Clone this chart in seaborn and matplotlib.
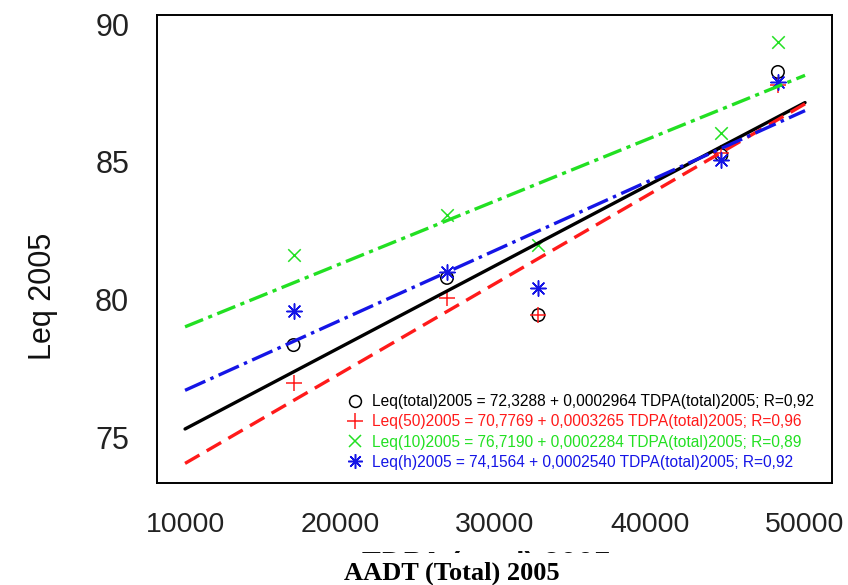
import numpy as np
import pandas as pd
import seaborn as sns
import matplotlib.pyplot as plt
from matplotlib.patches import Rectangle

# Measured sites: total daily traffic and equivalent noise levels (dB)
tdpa = [17000, 26900, 32800, 44600, 48250]
leq_total = [78.34, 80.78, 79.43, 85.24, 88.26]
leq_50 = [76.96, 80.05, 79.43, 85.32, 87.80]
leq_10 = [81.61, 83.06, 81.98, 86.04, 89.35]
leq_h = [79.58, 81.00, 80.41, 85.06, 87.90]

# Linear fits Leq = a + b * TDPA
series_names = ["Leq(total)2005", "Leq(50)2005", "Leq(10)2005", "Leq(h)2005"]
intercepts = [72.3288, 70.7769, 76.7190, 74.1564]
slopes = [0.0002964, 0.0003265, 0.0002284, 0.0002540]
r_values = ["0,92", "0,96", "0,89", "0,92"]
fit_range = [10000, 50000]

x_ticks = [10000, 20000, 30000, 40000, 50000]
y_ticks = [75, 80, 85, 90]

colors = ["black", "#ff1a1a", "#22e022", "#1515e6"]
markers = ["o", "+", "x", (8, 2, 0)]
marker_sizes = [9, 12, 9, 11]
line_styles = ["-", (0, (12, 6)), (0, (14, 4, 3, 4)), (0, (16, 4, 2.5, 4))]

sns.set_theme(style="white")
plt.rcParams["font.family"] = ["Liberation Sans", "DejaVu Sans"]
plt.rcParams["lines.scale_dashes"] = False

fig = plt.figure(figsize=(8.48, 5.85), dpi=100)
W, H = 848, 585
ax = fig.add_axes([157 / W, 1 - 483 / H, (832 - 157) / W, (483 - 15) / H])

values = [leq_total, leq_50, leq_10, leq_h]
handles = []
for name, ys, c, m, ms in zip(series_names, values, colors, markers, marker_sizes):
    df = pd.DataFrame({"tdpa": tdpa, "leq": ys})
    hollow = m == "o"
    sns.scatterplot(data=df, x="tdpa", y="leq", ax=ax, marker=m, s=ms ** 2,
                    facecolor="none" if hollow else c, edgecolor=c,
                    linewidth=1.1, zorder=2, legend=False)
    handles.append(plt.Line2D([], [], linestyle="none", marker=m, markersize=ms * 0.95,
                              markerfacecolor="none", markeredgecolor=c,
                              markeredgewidth=1.1))

for a, b, c, ls in zip(intercepts, slopes, colors, line_styles):
    fit = pd.DataFrame({"tdpa": fit_range,
                        "leq": [a + b * v for v in fit_range]})
    sns.lineplot(data=fit, x="tdpa", y="leq", ax=ax, color=c, linewidth=2.4,
                 linestyle=ls, zorder=3, estimator=None, legend=False)

ax.set_xlim(8190, 51740)
ax.set_ylim(73.33, 90.33)
ax.set_xticks(x_ticks)
ax.set_yticks(y_ticks)
ax.set_xlabel("")
ax.set_ylabel("")
ax.tick_params(axis="x", direction="out", length=15, width=1.2, colors="black",
               labelsize=20.5, pad=6, labelcolor="#222222")
ax.tick_params(axis="y", direction="out", length=18, width=1.2, colors="black",
               labelsize=22, pad=2, labelcolor="#222222")
for s in ax.spines.values():
    s.set_color("black")
    s.set_linewidth(1.4)

labels = [f"{n} = {a:.4f} + {b:.7f} TDPA(total)2005; R={r}".replace(".", ",")
          for n, a, b, r in zip(series_names, intercepts, slopes, r_values)]
leg = ax.legend(handles, labels, loc="upper left",
                bbox_to_anchor=((349 - 157) / (832 - 157), 1 - (394 - 15) / (483 - 15)),
                frameon=False, fontsize=11.2, handlelength=0.8, handletextpad=0.65,
                labelspacing=0.34, borderpad=0, borderaxespad=0,
                labelcolor=colors)

fig.text(43 / W, 1 - 296 / H, "Leq 2005", rotation=90, ha="center", va="center",
         fontsize=22, color="#111111")
fig.text(487 / W, 1 - 566 / H, "TDPA (total) 2005", ha="center", va="center",
         fontsize=22, fontweight="bold", color="#111111")
fig.patches.append(Rectangle((0, 0), 1, 1 - 553 / H, transform=fig.transFigure,
                             facecolor="white", edgecolor="none", zorder=5))
fig.text(452 / W, 1 - 573 / H, "AADT (Total) 2005", ha="center", va="center",
         fontsize=19, fontweight="bold", color="black",
         family=["Liberation Serif", "DejaVu Serif"], zorder=6)

fig.savefig("out.png", dpi=100)
